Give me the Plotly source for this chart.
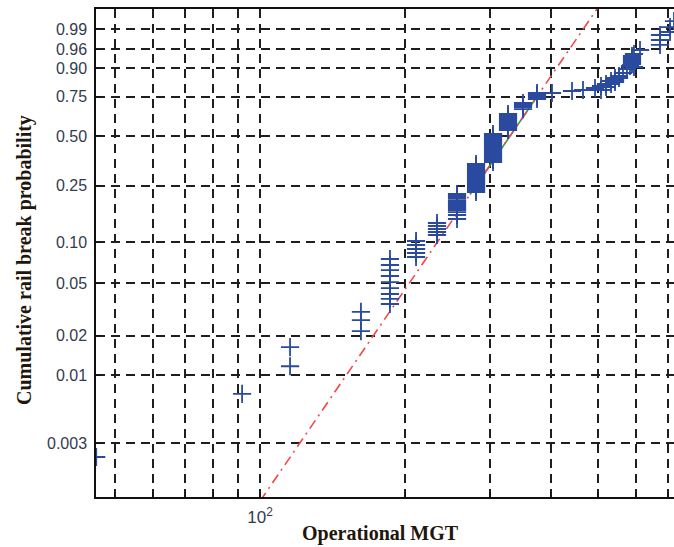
import numpy as np
import plotly.graph_objects as go

# ---- data (MGT, cumulative probability) ----
break_mgt = (
    [45.8, 91.8, 115.4, 115.4, 161.8, 161.8, 161.8]
    + [185.8] * 9 + [210.4] * 5 + [232.5] * 5 + [255.8] * 12
    + [280.1] * 15 + [303.7] * 15 + [326.2] * 9 + [350.4] * 4 + [374.6] * 4
    + [402.3, 442.6, 466.4, 493.9, 508.2, 508.2, 520.5, 520.5, 533.0, 533.0,
       543.3, 543.3, 543.3, 553.7, 553.7, 564.3, 575.2, 583.5,
       589.1, 589.1, 589.1, 589.1, 589.1, 594.7, 594.7, 612.0,
       673.3, 673.3, 673.3, 706.2, 706.2, 719.7]
)
break_prob = (
    [0.00236, 0.0072, 0.0117, 0.0164, 0.0217, 0.0263, 0.0303]
    + [0.0348, 0.0380, 0.0414, 0.0459, 0.0509, 0.0565, 0.0626, 0.0682, 0.0756]
    + [0.0782, 0.0837, 0.0895, 0.0958, 0.1024]
    + [0.1132, 0.1190, 0.1251, 0.1314, 0.1381]
    + [0.1474, 0.1573, 0.1651, 0.1706, 0.1762, 0.1819, 0.1878, 0.1939, 0.2000,
       0.2065, 0.2131, 0.2198]
    + [0.2268, 0.2339, 0.2413, 0.2487, 0.2564, 0.2644, 0.2724, 0.2807, 0.2892,
       0.2979, 0.3068, 0.3159, 0.3251, 0.3347, 0.3443]
    + [0.3543, 0.3643, 0.3746, 0.3852, 0.3958, 0.4067, 0.4178, 0.4290, 0.4404,
       0.4520, 0.4637, 0.4757, 0.4877, 0.4999, 0.5122]
    + [0.5373, 0.5500, 0.5627, 0.5755, 0.5884, 0.6014, 0.6144, 0.6274, 0.6404]
    + [0.6727, 0.6859, 0.6985, 0.7115]
    + [0.7366, 0.7489, 0.7611, 0.7731]
    + [0.7731, 0.7850, 0.7907, 0.8021, 0.7907, 0.8134, 0.8078, 0.8245, 0.8245,
       0.8402, 0.8454, 0.8555, 0.8350, 0.8555, 0.8652, 0.8791, 0.8965, 0.9085,
       0.9161, 0.9232, 0.9300, 0.9365, 0.9424, 0.9481, 0.9046, 0.9582,
       0.9689, 0.9774, 0.9841, 0.9873, 0.9915, 0.9950]
)

# fitted Weibull reference line (red) and fitted-range segment (green)
fit_mgt = [100.0, 500.0]
fit_prob = [0.00108, 0.99873]
seg_mgt = [272.2, 371.0]
seg_prob = [0.218, 0.733]

y_tick_probs = [0.003, 0.01, 0.02, 0.05, 0.10, 0.25, 0.50, 0.75, 0.90, 0.96, 0.99]
y_tick_text = ["0.003", "0.01", "0.02", "0.05", "0.10", "0.25", "0.50", "0.75",
               "0.90", "0.96", "0.99"]
x_major_vals = [100]
x_major_text = ["10<sup>2</sup>"]
x_minor_vals = [50, 60, 70, 80, 90, 200, 300, 400, 500, 600, 700]


def weib(p):
    p = np.asarray(p, dtype=float)
    return np.log(-np.log(1.0 - p))


fig = go.Figure()
fig.add_trace(go.Scatter(
    x=seg_mgt, y=weib(seg_prob), mode="lines",
    line=dict(color="#3c9a3c", width=1.6), hoverinfo="skip"))
fig.add_trace(go.Scatter(
    x=fit_mgt, y=weib(fit_prob), mode="lines",
    line=dict(color="#f04848", width=1.6, dash="10px,5px,2px,5px"),
    hoverinfo="skip"))
fig.add_trace(go.Scatter(
    x=break_mgt, y=weib(break_prob), mode="markers",
    marker=dict(symbol="cross-thin", size=13, color="#2a4aa0",
                line=dict(color="#2a4aa0", width=1.8))))

label_font = dict(family="Liberation Sans, Arial, sans-serif", size=16,
                  color="#333b4f")
title_font = dict(family="Liberation Serif, Times New Roman, serif", size=20,
                  color="#22160c")
grid_style = dict(showgrid=True, gridcolor="#1e1e1e", gridwidth=1.5,
                  griddash="9px,6px")

fig.update_layout(
    width=674, height=547,
    margin=dict(l=96, r=0, t=9, b=50, autoexpand=False),
    paper_bgcolor="white", plot_bgcolor="white",
    showlegend=False,
    xaxis=dict(
        type="log", automargin=False,
        range=[np.log10(45.75), np.log10(719.7)],
        tickmode="array", tickvals=x_major_vals, ticktext=x_major_text,
        **grid_style,
        minor=dict(tickmode="array", tickvals=x_minor_vals, ticks="inside",
                   ticklen=5, tickcolor="#111", **grid_style),
        showline=True, linecolor="#111", linewidth=1.5, mirror=True,
        ticks="inside", ticklen=5, tickcolor="#111",
        tickfont=dict(family="Liberation Sans, Arial, sans-serif", size=17,
                      color="#333b4f"),
        zeroline=False, ticklabelstandoff=4,
    ),
    yaxis=dict(
        automargin=False,
        range=[-6.756, 1.881],
        tickmode="array", tickvals=weib(y_tick_probs).tolist(),
        ticktext=y_tick_text,
        **grid_style,
        showline=True, linecolor="#111", linewidth=1.5, mirror=False,
        ticks="inside", ticklen=5, tickcolor="#111",
        tickfont=label_font, zeroline=False, ticklabelstandoff=4,
    ),
    annotations=[
        dict(text="<b>Operational MGT</b>", xref="paper", yref="paper",
             x=(380 - 96) / 578, y=-(533 - 497) / 488,
             xanchor="center", yanchor="middle", showarrow=False,
             font=title_font),
        dict(text="<b>Cumulative rail break probability</b>", xref="paper",
             yref="paper", x=(24 - 96) / 578, y=(497 - 260) / 488,
             xanchor="center", yanchor="middle", textangle=-90,
             showarrow=False, font=title_font),
    ],
)

fig.write_html(
    "out.html",
    config={"displayModeBar": False},
    post_script="document.body.style.margin='0';document.body.style.overflow='hidden';",
)
